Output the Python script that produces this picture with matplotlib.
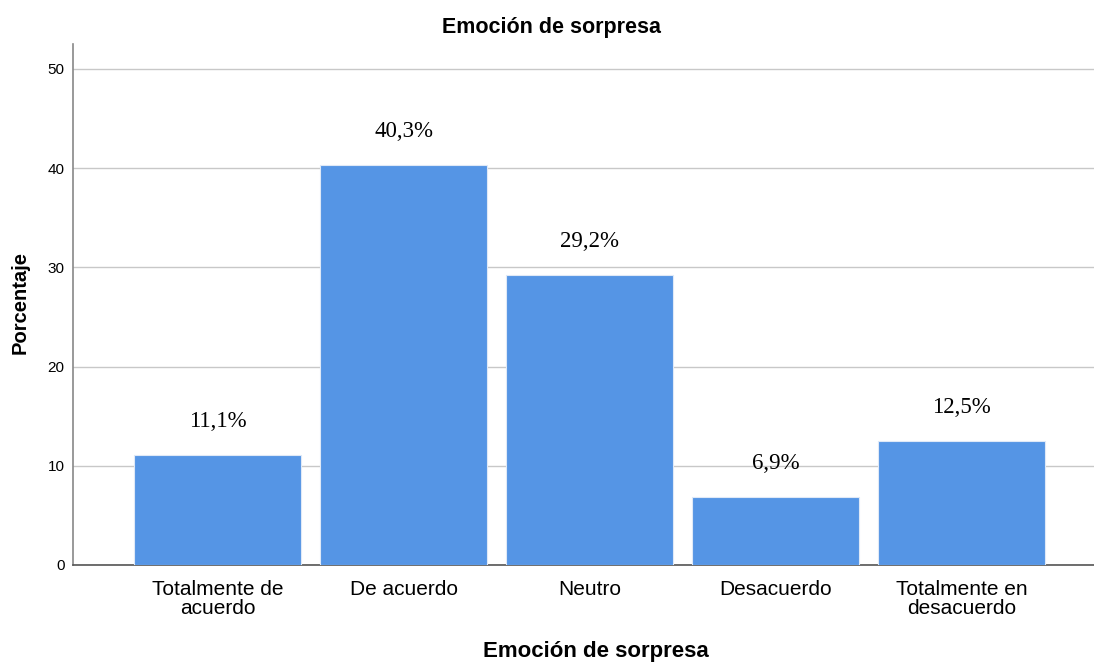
import numpy as np
import matplotlib
matplotlib.use('Agg')
import matplotlib.pyplot as plt

categories = ['Totalmente de\nacuerdo', 'De acuerdo', 'Neutro', 'Desacuerdo',
              'Totalmente en\ndesacuerdo']
values = [11.1, 40.3, 29.2, 6.9, 12.5]
labels = ['11,1%', '40,3%', '29,2%', '6,9%', '12,5%']
yticks = [0, 10, 20, 30, 40, 50]

BAR = '#5595E5'

fig = plt.figure(figsize=(10.94, 6.64), dpi=100)
ax = fig.add_axes([73 / 1094, 1 - 565 / 664, 1 - 73 / 1094, (565 - 44) / 664])

x = np.arange(len(values))
ax.bar(x, values, width=167 / 186, color=BAR, edgecolor='#dfe9f7', linewidth=0.8, zorder=3)

# etiquetas de porcentaje sobre cada barra
for xi, v, lab in zip(x, values, labels):
    ax.annotate(lab, (xi, v), xytext=(0, 24), textcoords='offset points',
                ha='center', va='center', fontsize=16.5, family='Liberation Serif')

ax.set_xlim(-0.777, 4.71)
ax.set_ylim(0, 52.5)
ax.set_yticks(yticks)
ax.yaxis.grid(True, color='#c8c8c8', lw=1, zorder=0)
ax.set_xticks(x)
ax.set_xticklabels(categories, fontsize=15, family='Liberation Sans', linespacing=1.0)
ax.tick_params(axis='x', length=0, pad=11)
ax.tick_params(axis='y', length=0, labelsize=11, pad=6)
for t in ax.get_yticklabels():
    t.set_family('Liberation Sans')

for s in ['top', 'right']:
    ax.spines[s].set_visible(False)
ax.spines['left'].set_color('#888888')
ax.spines['bottom'].set_color('#555555')
ax.spines['left'].set_linewidth(1.2)
ax.spines['bottom'].set_linewidth(1.2)

fig.text(552 / 1094, 1 - 28 / 664, 'Emoción de sorpresa', ha='center', va='center',
         fontsize=15.5, fontweight='bold', family='Liberation Sans')
fig.text(596 / 1094, 1 - 652 / 664, 'Emoción de sorpresa', ha='center', va='center',
         fontsize=16, fontweight='bold', family='Liberation Sans')
fig.text(20 / 1094, 1 - 302 / 664, 'Porcentaje', ha='center', va='center', rotation=90,
         fontsize=14.5, fontweight='bold', family='Liberation Sans')

fig.savefig('out.png', dpi=100)
